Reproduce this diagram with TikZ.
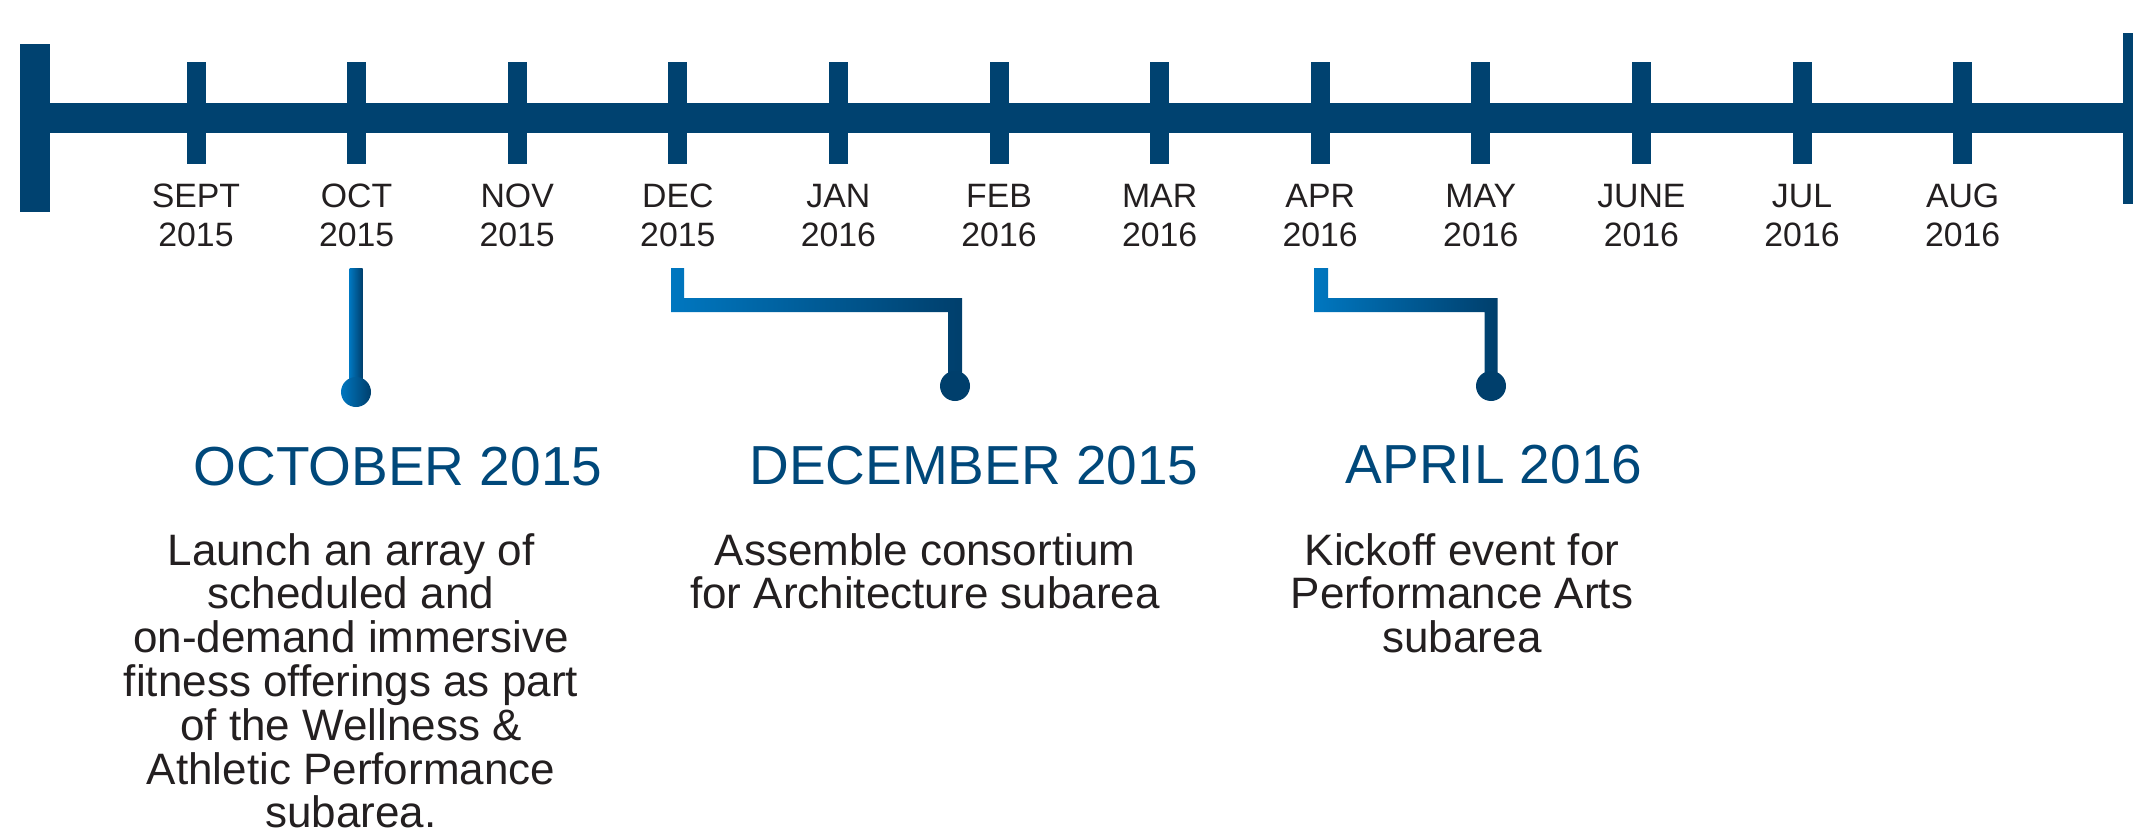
\documentclass[tikz,border=0pt]{standalone}
\usepackage{fontspec}
\setmainfont{Liberation Sans}
\definecolor{tl}{RGB}{0,66,112}
\definecolor{head}{RGB}{0,72,122}
\definecolor{txt}{RGB}{35,31,32}
\definecolor{glight}{RGB}{0,119,192}
\definecolor{gdark}{RGB}{0,63,108}
\newcommand\mlines[1]{\vtop{\lineskiplimit=-100pt\lineskip=0pt\halign{\hfil##\hfil\cr#1\crcr}}}
\begin{document}
\begin{tikzpicture}[x=1pt,y=-1pt,
  month/.style={anchor=base,inner sep=0pt,text=txt,font=\fontsize{33.8}{39}\selectfont},
  heading/.style={anchor=base,inner sep=0pt,text=head,font=\fontsize{55}{60}\selectfont},
  body/.style={anchor=base,inner sep=0pt,text=txt,font=\fontsize{44}{43.8}\selectfont},
  bar/.style={fill=tl},
  conn/.style={left color=glight,right color=gdark},
  dot/.style={fill=gdark}]
\useasboundingbox (0,0) rectangle (2133,832);
% timeline
\fill[bar] (20,44) rectangle (50,212);
\fill[bar] (2123,33) rectangle (2153,204);
\fill[bar] (50,103) rectangle (2123,133);
\foreach \i/\m/\y in {0/SEPT/2015,1/OCT/2015,2/NOV/2015,3/DEC/2015,4/JAN/2016,5/FEB/2016,6/MAR/2016,7/APR/2016,8/MAY/2016,9/JUNE/2016,10/JUL/2016,11/AUG/2016} {
  \pgfmathsetmacro\xx{196+160.6*\i}
  \fill[bar] (\xx-9.5,62) rectangle (\xx+9.5,164);
  \node[month] (m\i) at (\xx,207) {\mlines{\m\cr\y}};
}
% connectors
\coordinate (octS) at (356,268);
\coordinate (octE) at (356,392);
\shade[conn] (349.5,268) rectangle (362.5,392);
\shade[conn] (octE) circle (15);
\coordinate (decS) at (677.5,268);
\coordinate (decE) at (955,386);
\shade[conn] (671,268) -- (684,268) -- (684,298) -- (962,298) -- (962,386) -- (948,386) -- (948,312) -- (671,312) -- cycle;
\fill[dot] (decE) circle (15);
\coordinate (aprS) at (1321,268);
\coordinate (aprE) at (1491,386);
\shade[conn] (1314,268) -- (1328,268) -- (1328,298) -- (1497.5,298) -- (1497.5,386) -- (1484.5,386) -- (1484.5,312) -- (1314,312) -- cycle;
\fill[dot] (aprE) circle (15);
% headings
\node[heading] (hoct) at (398,485) {OCTOBER 2015};
\node[heading] (hdec) at (974,484) {DECEMBER 2015};
\node[heading] (hapr) at (1494,483) {APRIL 2016};
% bodies
\node[body] (boct) at (351,565) {\mlines{Launch an array of\cr scheduled and\cr on-demand immersive\cr fitness offerings as part\cr of the Wellness \&\cr Athletic Performance\cr subarea.}};
\node[body] (bdec) at (925,565) {\mlines{Assemble consortium\cr for Architecture subarea}};
\node[body] (bapr) at (1462,565) {\mlines{Kickoff event for\cr Performance Arts\cr subarea}};
\end{tikzpicture}
\end{document}
